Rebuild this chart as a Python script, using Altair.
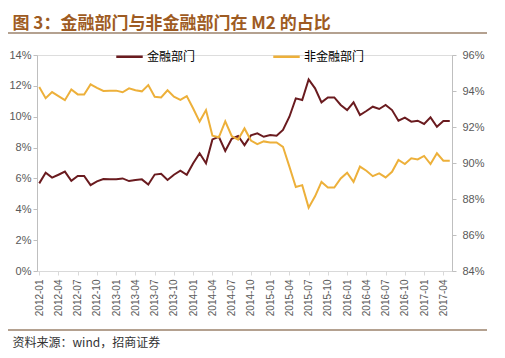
import altair as alt
import pandas as pd

# Months 2012-01 .. 2017-05
months = [f"{y}-{m:02d}" for y in range(2012, 2018) for m in range(1, 13)][:65]

fin = [5.68, 6.37, 6.05, 6.24, 6.44, 5.85, 6.16, 6.16, 5.57, 5.81, 5.96, 5.94,
       5.94, 6.00, 5.83, 5.90, 5.94, 5.60, 6.25, 6.30, 5.90, 6.24, 6.50, 6.24,
       6.98, 7.63, 6.98, 8.53, 8.70, 7.78, 8.57, 8.75, 8.16, 8.79, 8.92, 8.70,
       8.81, 8.77, 9.14, 10.00, 11.19, 11.08, 12.42, 11.84, 10.93, 11.25, 11.25, 10.76,
       10.43, 10.93, 10.11, 10.37, 10.65, 10.50, 10.76, 10.43, 9.74, 9.94, 9.68, 9.74,
       9.53, 9.96, 9.35, 9.72, 9.72]

nonfin = [94.22, 93.60, 93.94, 93.72, 93.49, 94.08, 93.81, 93.81, 94.37, 94.17, 94.00, 94.02,
          94.02, 93.93, 94.15, 94.04, 93.98, 94.33, 93.68, 93.64, 94.04, 93.68, 93.51, 93.72,
          93.03, 92.30, 92.94, 91.52, 91.43, 92.31, 91.50, 91.30, 91.92, 91.25, 91.05, 91.20,
          91.14, 91.14, 90.90, 89.80, 88.67, 88.77, 87.52, 88.15, 88.95, 88.64, 88.64, 89.14,
          89.46, 88.95, 89.80, 89.57, 89.27, 89.42, 89.20, 89.51, 90.17, 89.94, 90.26, 90.20,
          90.39, 89.94, 90.54, 90.13, 90.13]

series_names = ["金融部门", "非金融部门"]
colors = ["#6A1B1F", "#EDB03A"]
label_months = months[::3]
left_ticks = [0, 2, 4, 6, 8, 10, 12, 14]
right_ticks = [84, 86, 88, 90, 92, 94, 96]

title_text = "图 3：金融部门与非金融部门在 M2 的占比"
source_text = "资料来源：wind，招商证券"

df = pd.DataFrame({
    "month": months * 2,
    "series": [series_names[0]] * len(fin) + [series_names[1]] * len(nonfin),
    "value": fin + nonfin,
})

axis_font = "Liberation Sans"
cjk = "Noto Sans CJK SC"

x_enc = alt.X(
    "month:O",
    sort=months,
    scale=alt.Scale(type="point", padding=0.35),
    title=source_text,
    axis=alt.Axis(
        values=label_months, labelAngle=270,
        labelFont=axis_font, labelFontSize=10, labelColor="#595959",
        domainColor="#D9D9D9", tickColor="#D9D9D9", tickSize=4, labelPadding=4,
        titleFont=cjk, titleFontSize=12, titleFontWeight="normal", titleColor="#333333",
        titleAngle=0, titleAlign="left", titleBaseline="middle",
        titleX=-25, titleY=71.5,
    ),
)

color_enc = alt.Color(
    "series:N",
    scale=alt.Scale(domain=series_names, range=colors),
    legend=alt.Legend(
        orient="none", legendX=78, legendY=-13, direction="horizontal",
        title=None, symbolType="stroke", symbolStrokeWidth=2.5, symbolSize=700,
        labelFont=cjk, labelFontSize=12, labelColor="#000000",
        columnPadding=72, labelOffset=3,
    ),
)

base = alt.Chart(df)

left = base.transform_filter(alt.datum.series == series_names[0]).mark_line(strokeWidth=2).encode(
    x=x_enc,
    y=alt.Y("value:Q", scale=alt.Scale(domain=[0, 14]), title=title_text,
            axis=alt.Axis(orient="left", values=left_ticks, grid=False,
                          labelExpr="datum.value + '%'", labelFont=axis_font,
                          labelFontSize=11, labelColor="#595959",
                          domainColor="#BFBFBF", tickColor="#BFBFBF", tickSize=4,
                          titleFont=cjk, titleFontSize=17, titleFontWeight="bold",
                          titleColor="#9E5B22", titleAngle=0, titleAlign="left",
                          titleBaseline="middle", titleX=-25, titleY=-31.5)),
    color=color_enc,
)

right = base.transform_filter(alt.datum.series == series_names[1]).mark_line(strokeWidth=2).encode(
    x=x_enc,
    y=alt.Y("value:Q", scale=alt.Scale(domain=[84, 96]),
            axis=alt.Axis(orient="right", values=right_ticks, title=None, grid=False,
                          labelExpr="datum.value + '%'", labelFont=axis_font,
                          labelFontSize=11, labelColor="#595959",
                          domainColor="#BFBFBF", tickColor="#BFBFBF", tickSize=4,
                          labelPadding=6)),
    color=color_enc,
)

one = pd.DataFrame({"k": [0]})

title_rule = alt.Chart(one).mark_rule(color="#6B4423", strokeWidth=1.2).encode(
    x=alt.value(-29), x2=alt.value(450), y=alt.value(-22))

foot_rule = alt.Chart(one).mark_rule(color="#6B4423", strokeWidth=1.2).encode(
    x=alt.value(-29), x2=alt.value(450), y=alt.value(275))

chart = alt.layer(left, right, title_rule, foot_rule).resolve_scale(
    y="independent"
).properties(
    width=415, height=216,
    autosize=alt.AutoSizeParams(type="none"),
    padding={"left": 29, "top": 47, "right": 45, "bottom": 79},
).configure_view(stroke=None).configure(background="#FFFFFF")

chart.save("out.html", embed_options={"renderer": "svg", "actions": False})
